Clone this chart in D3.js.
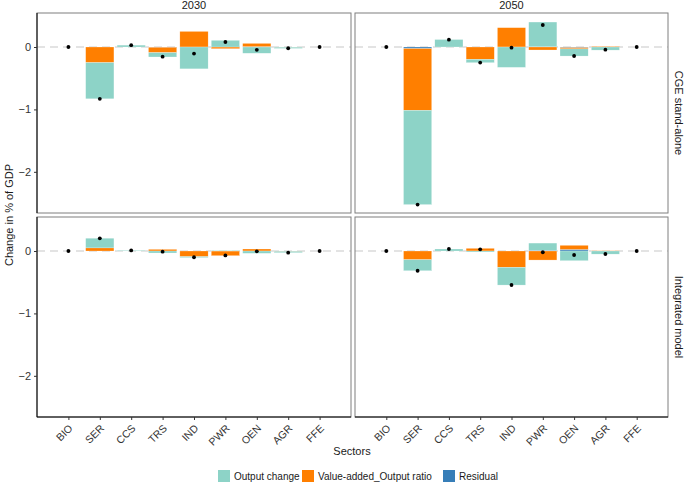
<!DOCTYPE html>
<html><head><meta charset="utf-8">
<script src="https://cdn.jsdelivr.net/npm/d3@7"></script>
<style>body{margin:0;background:#fff}svg{display:block;font-family:"Liberation Sans",Arial,sans-serif}</style>
</head><body><svg id="c" width="685" height="482"></svg>
<script>
const sectors = ["BIO","SER","CCS","TRS","IND","PWR","OEN","AGR","FFE"];
const years = ["2030","2050"];
const models = ["CGE stand-alone","Integrated model"];
const components = ["Output change","Value-added_Output ratio","Residual"];
const yTicks = [0,-1,-2];

// CGE stand-alone 2030
const cge2030Output = [0,-0.58,0.03,-0.07,-0.35,0.107,-0.10,-0.02,0];
const cge2030VA     = [0,-0.25,0,-0.085,0.25,-0.027,0.053,-0.003,0];
const cge2030Resid  = [0,0,0,-0.005,0,0,0.005,0,0];
const cge2030Total  = [0,-0.83,0.03,-0.155,-0.105,0.08,-0.045,-0.02,0];
// CGE stand-alone 2050
const cge2050Output = [0,-1.51,0.12,-0.053,-0.326,0.395,-0.115,-0.05,0];
const cge2050VA     = [0,-0.99,0,-0.198,0.31,-0.048,-0.02,0.01,0];
const cge2050Resid  = [0,-0.025,0,0,0,0.005,-0.01,0,0];
const cge2050Total  = [0,-2.525,0.117,-0.25,-0.01,0.353,-0.144,-0.043,0];
// Integrated model 2030
const int2030Output = [0,0.155,0.01,-0.032,-0.016,0.008,-0.037,-0.022,0];
const int2030VA     = [0,0.05,0,0.027,-0.09,-0.075,0.032,-0.005,0];
const int2030Resid  = [0,0,0,0,0,0,0,0,0];
const int2030Total  = [0,0.204,0.01,-0.01,-0.10,-0.07,-0.005,-0.027,0];
// Integrated model 2050
const int2050Output = [0,-0.177,0.032,-0.016,-0.284,0.115,-0.155,-0.05,0];
const int2050VA     = [0,-0.139,0,0.043,-0.262,-0.145,0.066,0.005,0];
const int2050Resid  = [0,0,0,0,0,0.012,0.025,0,0];
const int2050Total  = [0,-0.316,0.032,0.027,-0.545,-0.02,-0.064,-0.048,0];

const panelData = {
  "CGE stand-alone|2030": [cge2030Output,cge2030VA,cge2030Resid,cge2030Total],
  "CGE stand-alone|2050": [cge2050Output,cge2050VA,cge2050Resid,cge2050Total],
  "Integrated model|2030": [int2030Output,int2030VA,int2030Resid,int2030Total],
  "Integrated model|2050": [int2050Output,int2050VA,int2050Resid,int2050Total]
};

const colors = {"Output change":"#8DD3C7","Value-added_Output ratio":"#FF7F00","Residual":"#377EB8"};

const svg = d3.select("#c");
const colX = [[37,351],[355,668]];
const rowY = [[13,213],[217,417]];
const yDomain = [-2.66,0.545];

models.forEach((m,ri)=>{
  years.forEach((yr,ci)=>{
    const [x0,x1] = colX[ci], [t,b] = rowY[ri];
    const x = d3.scalePoint().domain(sectors).range([x0,x1]).padding(1);
    const y = d3.scaleLinear().domain(yDomain).range([b,t]);
    const bw = x.step()*0.9;
    const g = svg.append("g");
    const [out,va,res,tot] = panelData[m+"|"+yr];
    // zero line
    g.append("line").attr("x1",x0).attr("x2",x1).attr("y1",y(0)).attr("y2",y(0))
      .attr("stroke","#c8c8c8").attr("stroke-width",1.2).attr("stroke-dasharray","8,5");
    // stacked bars: residual nearest zero, then VA, then output change
    const order = [[res,"Residual"],[va,"Value-added_Output ratio"],[out,"Output change"]];
    sectors.forEach((s,i)=>{
      let pos=0, neg=0;
      order.forEach(([arr,name])=>{
        const v = arr[i];
        if (!v) return;
        let a,bb;
        if (v>0){a=pos; bb=pos+v; pos=bb;} else {a=neg; bb=neg+v; neg=bb;}
        g.append("rect").attr("x",x(s)-bw/2).attr("width",bw)
          .attr("y",y(Math.max(a,bb))).attr("height",Math.abs(y(a)-y(bb)))
          .attr("fill",colors[name]).attr("stroke","#ffffff").attr("stroke-width",0.4).attr("stroke-opacity",0.6);
      });
    });
    // totals
    g.selectAll("circle.t").data(sectors).join("circle").attr("class","t")
      .attr("cx",d=>x(d)).attr("cy",(d,i)=>y(tot[i])).attr("r",1.9).attr("fill","#000");
    // panel border
    g.append("rect").attr("x",x0).attr("y",t).attr("width",x1-x0).attr("height",b-t)
      .attr("fill","none").attr("stroke","#7f7f7f").attr("stroke-width",1);
    // y axis
    if (ci===0){
      const ax = g.append("g").attr("transform",`translate(${x0},0)`)
        .call(d3.axisLeft(y).tickValues(yTicks).tickSize(3).tickPadding(3).tickFormat(d=>d<0?"\u2212"+Math.abs(d):d));
      ax.select(".domain").attr("stroke","#000").attr("d",`M0,${t}V${b}`);
      ax.selectAll(".tick line").attr("stroke","#333");
      ax.selectAll("text").attr("font-size",11).attr("fill","#333").attr("font-family","Liberation Sans, Arial, sans-serif");
    }
    // x axis
    if (ri===1){
      const ax = g.append("g").attr("transform",`translate(0,${b})`)
        .call(d3.axisBottom(x).tickSize(3).tickFormat(""));
      ax.select(".domain").attr("stroke","#000").attr("d",`M${x0},0H${x1}`);
      ax.selectAll(".tick line").attr("stroke","#333");
      g.selectAll("text.xl").data(sectors).join("text").attr("class","xl")
        .attr("transform",d=>`translate(${x(d)+5},${b+12}) rotate(-45)`)
        .attr("text-anchor","end").attr("font-size",10.5).attr("fill","#333").text(d=>d);
    }
    // strips
    if (ri===0){
      svg.append("text").attr("x",(x0+x1)/2).attr("y",9).attr("text-anchor","middle")
        .attr("font-size",11).attr("fill","#1a1a1a").text(yr);
    }
    if (ci===1){
      svg.append("text").attr("transform",`translate(675,${(t+b)/2}) rotate(90)`).attr("text-anchor","middle")
        .attr("font-size",11).attr("fill","#1a1a1a").text(m);
    }
  });
});

// axis titles
svg.append("text").attr("transform","translate(13,215) rotate(-90)").attr("text-anchor","middle")
  .attr("font-size",11).attr("fill","#1a1a1a").text("Change in % of GDP");
svg.append("text").attr("x",352).attr("y",455).attr("text-anchor","middle")
  .attr("font-size",11).attr("fill","#1a1a1a").text("Sectors");

// legend
const legX = [218,302,443];
components.forEach((c,i)=>{
  const lg = svg.append("g").attr("transform",`translate(${legX[i]},470)`);
  lg.append("rect").attr("width",12).attr("height",12).attr("fill",colors[c]);
  lg.append("text").attr("x",16).attr("y",10).attr("font-size",10).attr("fill","#1a1a1a").text(c);
});
</script></body></html>
